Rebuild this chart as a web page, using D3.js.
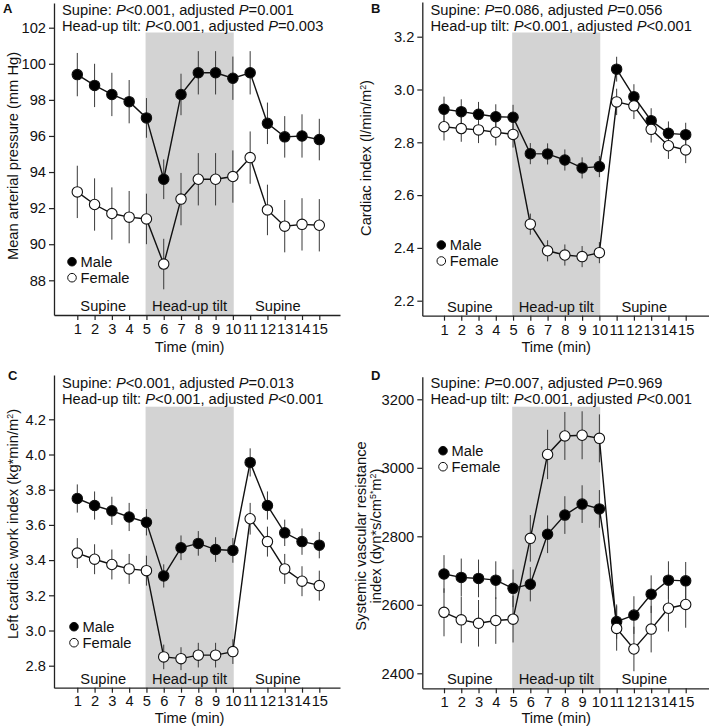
<!DOCTYPE html>
<html>
<head>
<meta charset="utf-8">
<script src="https://cdn.jsdelivr.net/npm/d3@7"></script>
<style>
  html, body { margin: 0; padding: 0; background: #fff; }
  svg { display: block; font-family: "Liberation Sans", Arial, sans-serif; }
</style>
</head>
<body>
<svg id="chart" width="709" height="726"></svg>
<script>
// ---------------- data ----------------
const time = [1, 2, 3, 4, 5, 6, 7, 8, 9, 10, 11, 12, 13, 14, 15];
const phaseLabels = ["Supine", "Head-up tilt", "Supine"];
const tiltStart = 5, tiltEnd = 10;
const seriesNames = ["Male", "Female"];

// A: Mean arterial pressure (mm Hg)
const mapMale      = [99.4, 98.8, 98.3, 97.9, 97.0, 93.6, 98.3, 99.5, 99.5, 99.2, 99.5, 96.7, 95.95, 96.0, 95.8];
const mapMaleErr   = [1.2, 1.2, 1.2, 1.2, 1.1, 1.1, 1.15, 1.2, 1.2, 1.2, 1.2, 1.15, 1.15, 1.2, 1.15];
const mapFemale    = [92.9, 92.2, 91.7, 91.5, 91.4, 88.9, 92.5, 93.6, 93.6, 93.75, 94.8, 91.9, 91.0, 91.1, 91.05];
const mapFemaleErr = [1.45, 1.45, 1.45, 1.45, 1.4, 1.4, 1.45, 1.45, 1.45, 1.45, 1.45, 1.4, 1.45, 1.45, 1.45];
const mapTicks = [88, 90, 92, 94, 96, 98, 100, 102];

// B: Cardiac index (l/min/m2)
const ciMale      = [2.925, 2.916, 2.906, 2.897, 2.895, 2.757, 2.756, 2.733, 2.703, 2.708, 3.077, 2.973, 2.882, 2.834, 2.829];
const ciMaleErr   = [0.048, 0.047, 0.047, 0.047, 0.047, 0.04, 0.04, 0.04, 0.04, 0.04, 0.047, 0.047, 0.047, 0.045, 0.045];
const ciFemale    = [2.859, 2.852, 2.847, 2.838, 2.830, 2.490, 2.389, 2.373, 2.367, 2.382, 2.953, 2.938, 2.849, 2.787, 2.771];
const ciFemaleErr = [0.052, 0.05, 0.05, 0.05, 0.05, 0.04, 0.04, 0.04, 0.04, 0.04, 0.05, 0.05, 0.05, 0.05, 0.05];
const ciTicks = [2.2, 2.4, 2.6, 2.8, 3.0, 3.2];

// C: Left cardiac work index (kg*min/m2)
const lcwMale      = [3.75, 3.71, 3.68, 3.645, 3.615, 3.31, 3.47, 3.495, 3.46, 3.455, 3.955, 3.71, 3.555, 3.505, 3.485];
const lcwMaleErr   = [0.08, 0.08, 0.08, 0.08, 0.075, 0.066, 0.07, 0.07, 0.07, 0.07, 0.08, 0.08, 0.075, 0.075, 0.075];
const lcwFemale    = [3.44, 3.405, 3.375, 3.35, 3.34, 2.85, 2.84, 2.86, 2.86, 2.88, 3.635, 3.505, 3.35, 3.28, 3.255];
const lcwFemaleErr = [0.085, 0.085, 0.085, 0.085, 0.085, 0.07, 0.065, 0.07, 0.07, 0.07, 0.09, 0.085, 0.085, 0.085, 0.085];
const lcwTicks = [2.8, 3.0, 3.2, 3.4, 3.6, 3.8, 4.0, 4.2];

// D: Systemic vascular resistance index (dyn*s/cm5*m2)
const svriMale      = [2690, 2680, 2677, 2672, 2648, 2660, 2806, 2862, 2894, 2880, 2551, 2570, 2631, 2672, 2670];
const svriMaleErr   = [55, 55, 55, 55, 55, 50, 55, 55, 55, 55, 50, 55, 55, 55, 55];
const svriFemale    = [2578, 2556, 2546, 2554, 2558, 2794, 3039, 3093, 3095, 3086, 2531, 2471, 2529, 2590, 2601];
const svriFemaleErr = [70, 68, 68, 68, 68, 68, 72, 70, 70, 70, 65, 65, 68, 68, 68];
const svriTicks = [2400, 2600, 2800, 3000, 3200];

// ---------------- drawing ----------------
const svg = d3.select("#chart");
const FS = 14.7;
const TXT = "#111";

const panels = [
  {
    letter: "A", male: mapMale, maleErr: mapMaleErr, female: mapFemale, femaleErr: mapFemaleErr,
    ticks: mapTicks, fmt: d3.format("d"),
    left: 54, right: 340, x1: 77.3, x15: 319.3,
    top: 3, bottom: 315, yLo: mapTicks[0], yLoPx: 280.3, yHi: 102, yHiPx: 27.7,
    shadeTop: 32.5, tickPad: 4, titleOff: 36.5,
    p1: ["Supine: ", ["P", true], "<0.001, adjusted ", ["P", true], "=0.001"],
    p2: ["Head-up tilt: ", ["P", true], "<0.001, adjusted ", ["P", true], "=0.003"],
    annX: 62, annY: 10, letterX: 3, letterY: 8,
    legX: 72, legY: 261.7,
    ylabel: [["Mean arterial pressure (mm Hg)"]], ylabelX: 13, ylabelY: 156
  },
  {
    letter: "B", male: ciMale, maleErr: ciMaleErr, female: ciFemale, femaleErr: ciFemaleErr,
    ticks: ciTicks, fmt: d3.format(".1f"),
    left: 422.3, right: 712, x1: 444, x15: 685.7,
    top: 2, bottom: 315.7, yLo: 2.2, yLoPx: 300.7, yHi: 3.2, yHiPx: 36.7,
    shadeTop: 32.5, tickPad: 4, titleOff: 36,
    p1: ["Supine: ", ["P", true], "=0.086, adjusted ", ["P", true], "=0.056"],
    p2: ["Head-up tilt: ", ["P", true], "<0.001, adjusted ", ["P", true], "<0.001"],
    annX: 430.5, annY: 10, letterX: 371, letterY: 8,
    legX: 441.3, legY: 245,
    ylabel: [["Cardiac index (l/min/m", ["2", "sup"], ")"]], ylabelX: 366, ylabelY: 158
  },
  {
    letter: "C", male: lcwMale, maleErr: lcwMaleErr, female: lcwFemale, femaleErr: lcwFemaleErr,
    ticks: lcwTicks, fmt: d3.format(".1f"),
    left: 54, right: 340, x1: 77.3, x15: 319.3,
    top: 375, bottom: 687.7, yLo: 2.8, yLoPx: 665.7, yHi: 4.2, yHiPx: 419.3,
    shadeTop: 406.7, tickPad: 3, titleOff: 35,
    p1: ["Supine: ", ["P", true], "<0.001, adjusted ", ["P", true], "=0.013"],
    p2: ["Head-up tilt: ", ["P", true], "<0.001, adjusted ", ["P", true], "<0.001"],
    annX: 62, annY: 383.3, letterX: 8, letterY: 375,
    legX: 74, legY: 626.7,
    ylabel: [["Left cardiac work index (kg*min/m", ["2", "sup"], ")"]], ylabelX: 13, ylabelY: 524
  },
  {
    letter: "D", male: svriMale, maleErr: svriMaleErr, female: svriFemale, femaleErr: svriFemaleErr,
    ticks: svriTicks, fmt: d3.format("d"),
    left: 422.3, right: 712, x1: 444, x15: 685.7,
    top: 376.7, bottom: 688.3, yLo: 2400, yLoPx: 673.3, yHi: 3200, yHiPx: 399.3,
    shadeTop: 406.7, tickPad: 3, titleOff: 35,
    p1: ["Supine: ", ["P", true], "=0.007, adjusted ", ["P", true], "=0.969"],
    p2: ["Head-up tilt: ", ["P", true], "<0.001, adjusted ", ["P", true], "<0.001"],
    annX: 430.5, annY: 383.3, letterX: 371, letterY: 375,
    legX: 443, legY: 450.7,
    ylabel: [["Systemic vascular resistance"], ["index (dyn*s/cm", ["5*", "sup"], "m", ["2", "sup"], ")"]],
    ylabelX: 361, ylabelY: 536
  }
];

function addRich(textSel, parts) {
  parts.forEach(p => {
    if (typeof p === "string") {
      textSel.append("tspan").text(p);
    } else if (p[1] === true) {
      textSel.append("tspan").attr("font-style", "italic").text(p[0]);
    } else if (p[1] === "sup") {
      textSel.append("tspan").attr("font-size", FS * 0.6).attr("baseline-shift", "super").text(p[0]);
    }
  });
}

panels.forEach(cfg => {
  const g = svg.append("g");

  // scales anchored on tick positions, then extended to the axis extents
  const x0 = d3.scaleLinear().domain([1, 15]).range([cfg.x1, cfg.x15]);
  const x = d3.scaleLinear().domain([x0.invert(cfg.left), x0.invert(cfg.right)]).range([cfg.left, cfg.right]);
  const y0 = d3.scaleLinear().domain([cfg.yLo, cfg.yHi]).range([cfg.yLoPx, cfg.yHiPx]);
  const y = d3.scaleLinear().domain([y0.invert(cfg.bottom), y0.invert(cfg.top)]).range([cfg.bottom, cfg.top]);

  // head-up tilt shading
  g.append("rect")
    .attr("x", x(tiltStart - 0.05)).attr("width", x(tiltEnd + 0.05) - x(tiltStart - 0.05))
    .attr("y", cfg.shadeTop).attr("height", cfg.bottom - cfg.shadeTop)
    .attr("fill", "#d3d3d3");

  // axes
  const yAxis = g.append("g").attr("transform", `translate(${cfg.left},0)`)
    .call(d3.axisLeft(y).tickValues(cfg.ticks).tickFormat(cfg.fmt).tickSize(5).tickSizeOuter(0).tickPadding(3));
  const xAxis = g.append("g").attr("transform", `translate(0,${cfg.bottom})`)
    .call(d3.axisBottom(x).tickValues(time).tickFormat(d3.format("d")).tickSize(5).tickSizeOuter(0).tickPadding(cfg.tickPad));
  [yAxis, xAxis].forEach(a => {
    a.selectAll("path.domain").attr("stroke", "#222").attr("stroke-width", 1.3);
    a.selectAll(".tick line").attr("stroke", "#222").attr("stroke-width", 1.2);
    a.selectAll(".tick text").attr("font-size", FS).attr("fill", TXT)
      .attr("font-family", "'Liberation Sans', Arial, sans-serif");
  });

  // x axis title
  g.append("text")
    .attr("x", x(7.5)).attr("y", cfg.bottom + cfg.titleOff)
    .attr("text-anchor", "middle").attr("font-size", FS).attr("fill", TXT)
    .text("Time (min)");

  // phase labels
  const phaseCenters = [2.5, 7.5, 12.6];
  phaseLabels.forEach((lab, i) => {
    g.append("text")
      .attr("x", x(phaseCenters[i])).attr("y", cfg.bottom - 9)
      .attr("dy", "0.35em")
      .attr("text-anchor", "middle").attr("font-size", FS).attr("fill", TXT)
      .text(lab);
  });

  // error bars
  const series = [
    { v: cfg.male, e: cfg.maleErr, fill: "#000" },
    { v: cfg.female, e: cfg.femaleErr, fill: "#fff" }
  ];
  series.forEach(s => {
    g.append("g").selectAll("line").data(time).join("line")
      .attr("x1", (d) => x(d)).attr("x2", (d) => x(d))
      .attr("y1", (d, i) => y(s.v[i] - s.e[i])).attr("y2", (d, i) => y(s.v[i] + s.e[i]))
      .attr("stroke", "#3a3a3a").attr("stroke-width", 1);
  });

  // lines
  const line = d3.line().x((d, i) => x(time[i])).y(d => y(d));
  series.forEach(s => {
    g.append("path").datum(s.v).attr("d", line)
      .attr("fill", "none").attr("stroke", "#111").attr("stroke-width", 1.4);
  });

  // markers
  series.forEach(s => {
    g.append("g").selectAll("circle").data(s.v).join("circle")
      .attr("cx", (d, i) => x(time[i])).attr("cy", d => y(d))
      .attr("r", 5.2)
      .attr("fill", s.fill).attr("stroke", "#111").attr("stroke-width", 1.1);
  });

  // legend
  seriesNames.forEach((name, i) => {
    const ly = cfg.legY + i * 16;
    g.append("circle").attr("cx", cfg.legX).attr("cy", ly).attr("r", 4.3)
      .attr("fill", i === 0 ? "#000" : "#fff").attr("stroke", "#111").attr("stroke-width", 1);
    g.append("text").attr("x", cfg.legX + 8.5).attr("y", ly).attr("dy", "0.35em")
      .attr("font-size", FS).attr("fill", TXT).text(name);
  });

  // p-value annotations
  const a1 = g.append("text").attr("x", cfg.annX).attr("y", cfg.annY).attr("dy", "0.35em")
    .attr("font-size", FS).attr("fill", TXT);
  addRich(a1, cfg.p1);
  const a2 = g.append("text").attr("x", cfg.annX).attr("y", cfg.annY + 16).attr("dy", "0.35em")
    .attr("font-size", FS).attr("fill", TXT);
  addRich(a2, cfg.p2);

  // panel letter
  g.append("text").attr("x", cfg.letterX).attr("y", cfg.letterY).attr("dy", "0.35em")
    .attr("font-size", 13).attr("font-weight", "bold").attr("fill", TXT).text(cfg.letter);

  // y label
  cfg.ylabel.forEach((parts, li) => {
    const lx = cfg.ylabelX + li * 15;
    const t = g.append("text")
      .attr("transform", `translate(${lx},${cfg.ylabelY}) rotate(-90)`)
      .attr("text-anchor", "middle").attr("dy", "0.35em")
      .attr("font-size", FS).attr("fill", TXT);
    addRich(t, parts);
  });
});
</script>
</body>
</html>
